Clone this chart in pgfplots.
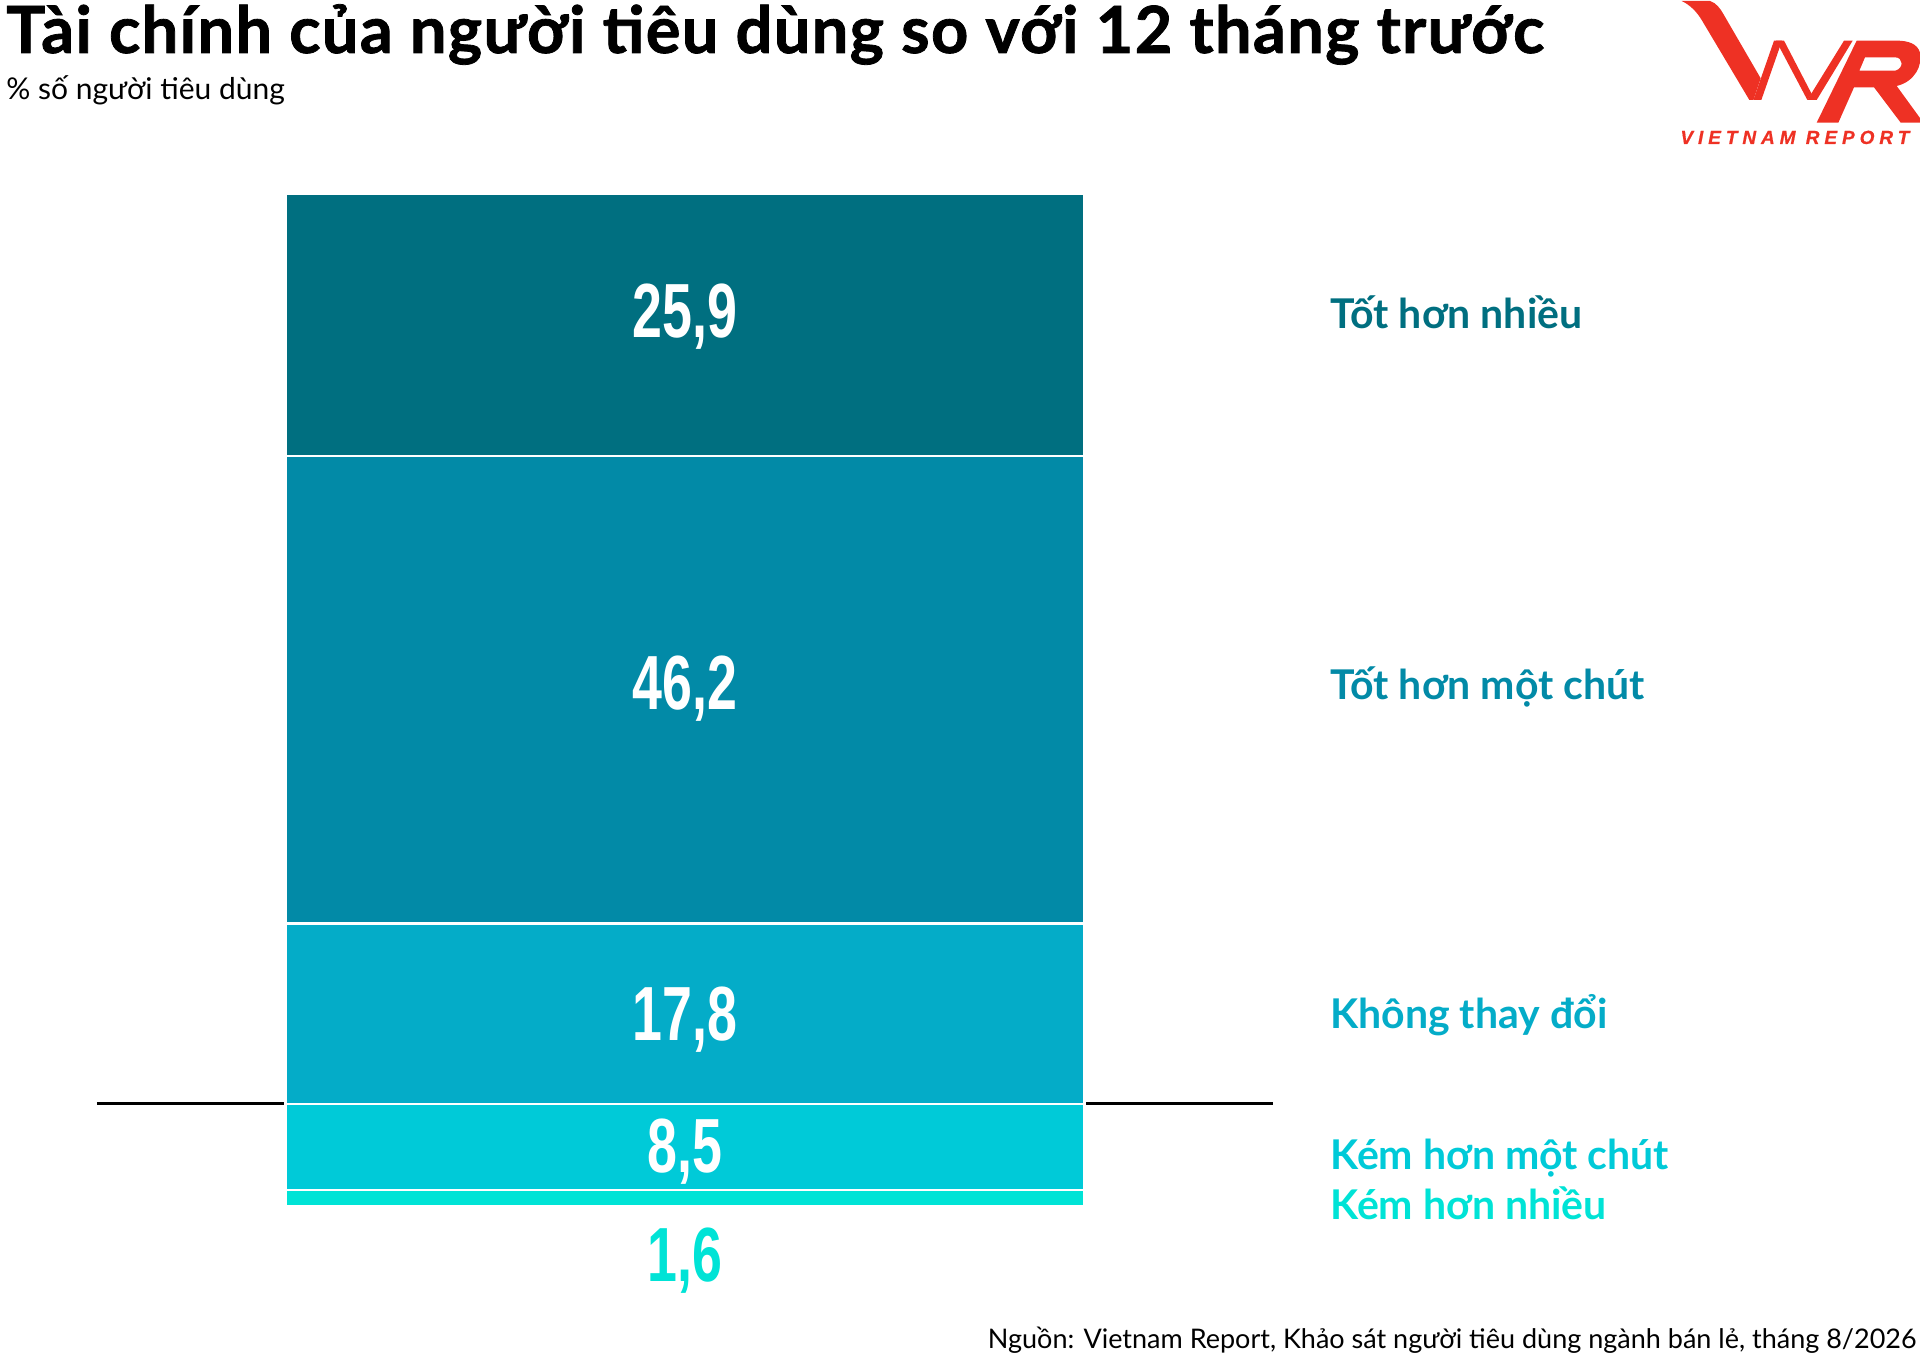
\documentclass[border=0pt]{standalone}
\usepackage{fontspec}
\setmainfont{Lato}
\newfontfamily\titlefont[FakeBold=1.2,LetterSpace=2]{Lato Bold}
\newfontfamily\numfont{Liberation Sans}
\newfontfamily\logofont[LetterSpace=26,FakeBold=0.6]{Liberation Sans}
\usepackage{pgfplots}
\pgfplotsset{compat=1.18}

\definecolor{cA}{HTML}{006F80}
\definecolor{cB}{HTML}{028AA7}
\definecolor{cC}{HTML}{04ACC8}
\definecolor{cD}{HTML}{00CAD8}
\definecolor{cE}{HTML}{00E3D6}
\definecolor{vnred}{HTML}{EE3124}

% narrow bold digits for the segment values
\newcommand\val[1]{\scalebox{0.7}[1]{\numfont\bfseries\fontsize{38.4}{40}\selectfont #1}}

\begin{document}
\begin{tikzpicture}
\path[use as bounding box] (0,0) rectangle (960pt,679pt);

\begin{axis}[
    at={(143pt,76pt)}, anchor=south west,
    scale only axis, width=399pt, height=506pt,
    xmin=0, xmax=1, ymin=0, ymax=100,
    hide axis, clip=false,
    ybar stacked, bar width=399pt,
    every axis plot/.append style={draw=white, line width=1.2pt},
]
\addplot[fill=cE] coordinates {(0.5,1.6)};   % Kém hơn nhiều
\addplot[fill=cD] coordinates {(0.5,8.5)};   % Kém hơn một chút
\addplot[fill=cC] coordinates {(0.5,17.8)};  % Không thay đổi
\addplot[fill=cB] coordinates {(0.5,46.2)};  % Tốt hơn một chút
\addplot[fill=cA] coordinates {(0.5,25.9)};  % Tốt hơn nhiều
\draw[black, line width=1.5pt] (axis cs:-0.237,10.1) -- (axis cs:-0.003,10.1);
\draw[black, line width=1.5pt] (axis cs:1.003,10.1) -- (axis cs:1.237,10.1);
\end{axis}

\begin{scope}[x=0.5pt, y=-0.5pt, shift={(0pt,679pt)}]
% titles
\node[anchor=base west, inner sep=0, font=\titlefont\fontsize{32.5}{34}\selectfont]
  at (6,53) {Tài chính của người tiêu dùng so với 12 tháng trước};
\node[anchor=base west, inner sep=0, font=\fontsize{15}{17}\selectfont]
  at (6,100) {\% số người tiêu dùng};

% values
\node[anchor=base, inner sep=0, text=white] at (685,338) {\val{25,9}};
\node[anchor=base, inner sep=0, text=white] at (685,710) {\val{46,2}};
\node[anchor=base, inner sep=0, text=white] at (685,1041) {\val{17,8}};
\node[anchor=base, inner sep=0, text=white] at (685,1173) {\val{8,5}};
\node[anchor=base, inner sep=0, text=cE] at (685,1282) {\val{1,6}};

% category names
\begin{scope}[every node/.style={anchor=base west, inner sep=0, font=\fontsize{20.5}{22}\selectfont\bfseries}]
\node[text=cA] at (1330,329) {Tốt hơn nhiều};
\node[text=cB] at (1330,700) {Tốt hơn một chút};
\node[text=cC] at (1330,1029) {Không thay đổi};
\node[text=cD] at (1330,1170) {Kém hơn một chút};
\node[text=cE] at (1330,1220) {Kém hơn nhiều};
\end{scope}

% source
\node[anchor=base east, inner sep=0, font=\fontsize{13.5}{15}\selectfont]
  at (1917,1349) {Nguồn: Vietnam Report, Khảo sát người tiêu dùng ngành bán lẻ, tháng 8/2026};

% logo
\begin{scope}[shift={(1670,0)}, scale=1/3]
\fill[vnred] (35,3) -- (120,3) .. controls (140,10) and (150,25) .. (160,42) -- (272,235) -- (250,300) -- (238,300) -- (95,60) .. controls (80,35) and (60,15) .. (35,3) -- cycle;
\fill[vnred] (250,300) -- (274,300) -- (336,122) -- (312,122) -- cycle;
\fill[vnred] (318,122) -- (342,122) -- (425,282) -- (412,300) -- cycle;
\fill[vnred] (412,300) -- (440,300) -- (548,122) -- (522,122) -- cycle;
\fill[vnred, even odd rule] (440,368) -- (505,368) -- (552,262) -- (612,262) -- (692,368) -- (760,368) -- (680,258)
   .. controls (735,245) and (758,195) .. (750,158) .. controls (742,130) and (712,122) .. (680,122) -- (560,122) -- cycle
   (585,172) -- (675,172) .. controls (700,172) and (702,205) .. (676,212) -- (568,212) -- cycle;
\node[anchor=base west, inner sep=0, text=vnred, font=\logofont\bfseries\itshape\fontsize{9.5}{10}\selectfont]
  at (30,432) {VIETNAM REPORT};
\end{scope}
\end{scope}
\end{tikzpicture}
\end{document}
